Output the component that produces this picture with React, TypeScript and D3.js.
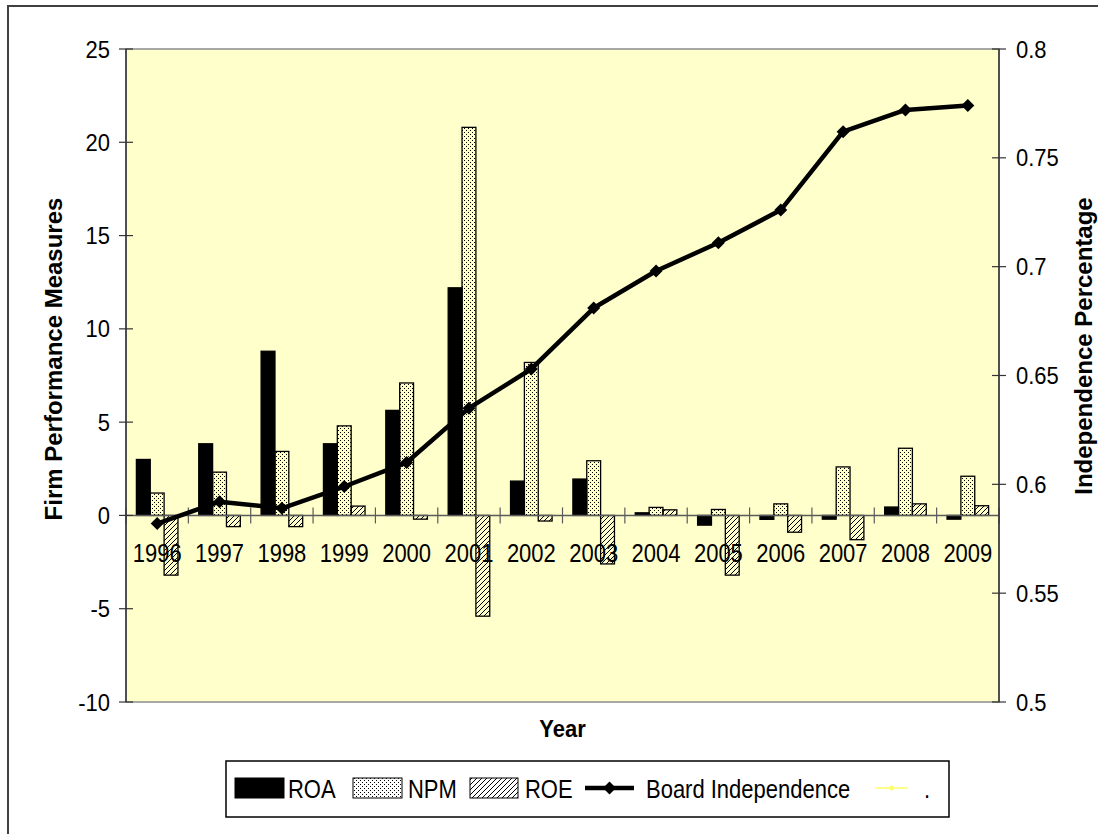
import React from "react";
import * as d3 from "d3";

// Years on the category axis
const years = ["1996", "1997", "1998", "1999", "2000", "2001", "2002", "2003", "2004", "2005", "2006", "2007", "2008", "2009"];

// Firm performance measures (left axis)
const roa = [3.0, 3.84, 8.8, 3.84, 5.63, 12.2, 1.84, 1.95, 0.14, -0.52, -0.21, -0.2, 0.45, -0.2];
const npm = [1.2, 2.32, 3.43, 4.8, 7.1, 20.8, 8.2, 2.93, 0.43, 0.32, 0.62, 2.6, 3.6, 2.1];
const roe = [-3.2, -0.6, -0.6, 0.5, -0.2, -5.4, -0.3, -2.6, 0.3, -3.2, -0.9, -1.3, 0.62, 0.52];

// Board independence percentage (right axis)
const boardIndependence = [0.582, 0.592, 0.589, 0.599, 0.61, 0.635, 0.653, 0.681, 0.698, 0.711, 0.726, 0.762, 0.772, 0.774];

// Axis ticks
const leftTicks = [-10, -5, 0, 5, 10, 15, 20, 25];
const rightTicks = [0.5, 0.55, 0.6, 0.65, 0.7, 0.75, 0.8];
const rightTickLabels = ["0.5", "0.55", "0.6", "0.65", "0.7", "0.75", "0.8"];

const seriesNames = ["ROA", "NPM", "ROE"];

const W = 1098;
const H = 834;
const plot = { left: 126, right: 999, top: 49, bottom: 702 };
const FONT = "Arial, 'Liberation Sans', Helvetica, sans-serif";

// Text drawn slightly taller than wide, anchored at its baseline point
function T(props: {
  x: number;
  y: number;
  sy?: number;
  anchor?: "start" | "middle" | "end";
  size?: number;
  bold?: boolean;
  dy?: string;
  children: React.ReactNode;
}) {
  const { x, y, sy = 1.12, anchor = "start", size = 22, bold = false, dy, children } = props;
  return (
    <g transform={`translate(${x},${y}) scale(1,${sy})`}>
      <text x={0} y={0} dy={dy} textAnchor={anchor} fontSize={size} fontWeight={bold ? "bold" : "normal"} fill="#000">
        {children}
      </text>
    </g>
  );
}

export default function App() {
  const x = d3.scaleBand<string>().domain(years).range([plot.left, plot.right]).paddingInner(0).paddingOuter(0);
  const xs = d3.scaleBand<string>().domain(seriesNames).range([0, x.step()]).paddingInner(0).paddingOuter(0.75);
  const yL = d3.scaleLinear().domain([-10, 25]).range([plot.bottom, plot.top]);
  const yR = d3.scaleLinear().domain([0.5, 0.8]).range([plot.bottom, plot.top]);

  const series = [
    { name: "ROA", values: roa, fill: "#000" },
    { name: "NPM", values: npm, fill: "url(#dots)" },
    { name: "ROE", values: roe, fill: "url(#hatch)" },
  ];

  const line = d3
    .line<number>()
    .x((_, i) => (x(years[i]) as number) + x.bandwidth() / 2)
    .y((d) => yR(d));

  const diamond = (cx: number, cy: number, r: number) =>
    `M${cx},${cy - r}L${cx + r},${cy}L${cx},${cy + r}L${cx - r},${cy}Z`;

  const zeroY = yL(0);
  const boundaries = d3.range(years.length + 1).map((i) => plot.left + i * x.step());

  return (
    <svg
      width={W}
      height={H}
      style={{ position: "absolute", left: 0, top: 0, display: "block", background: "#fff" }}
      fontFamily={FONT}
    >
      <defs>
        <pattern id="dots" width="4" height="4" patternUnits="userSpaceOnUse">
          <rect x="0" y="0" width="1" height="1" fill="#000" />
          <rect x="2" y="2" width="1" height="1" fill="#000" />
        </pattern>
        <pattern id="hatch" width="5" height="5" patternUnits="userSpaceOnUse">
          <path d="M-1,1 L1,-1 M0,5 L5,0 M4,6 L6,4" stroke="#000" strokeWidth="1" />
        </pattern>
      </defs>

      {/* outer chart frame */}
      <rect x={8} y={6} width={W + 20} height={H + 20} fill="none" stroke="#404040" strokeWidth={2} />

      {/* plot area */}
      <rect
        x={plot.left}
        y={plot.top}
        width={plot.right - plot.left}
        height={plot.bottom - plot.top}
        fill="#FFFFCC"
        stroke="#8c8c8c"
        strokeWidth={1.5}
      />

      {/* bars */}
      {series.map((s) =>
        s.values.map((v, i) => {
          const bx = (x(years[i]) as number) + (xs(s.name) as number);
          const y0 = yL(Math.max(0, v));
          const h = Math.abs(yL(v) - yL(0));
          return (
            <rect
              key={s.name + i}
              x={bx}
              y={y0}
              width={xs.bandwidth()}
              height={h}
              fill={s.fill}
              stroke="#000"
              strokeWidth={1.3}
            />
          );
        })
      )}

      {/* category axis at zero */}
      <line x1={plot.left} x2={plot.right} y1={zeroY} y2={zeroY} stroke="#5a5a5a" strokeWidth={1.5} />
      {boundaries.map((bx, i) => (
        <line key={"ct" + i} x1={bx} x2={bx} y1={zeroY - 8} y2={zeroY + 8} stroke="#5a5a5a" strokeWidth={1.2} />
      ))}
      {years.map((yr) => (
        <T key={"cl" + yr} x={(x(yr) as number) + x.bandwidth() / 2} y={zeroY + 47} anchor="middle" sy={1.15}>
          {yr}
        </T>
      ))}

      {/* board independence line */}
      <path d={line(boardIndependence) || ""} fill="none" stroke="#000" strokeWidth={4.5} strokeLinejoin="round" />
      {boardIndependence.map((v, i) => (
        <path key={"m" + i} d={diamond((x(years[i]) as number) + x.bandwidth() / 2, yR(v), 6.5)} fill="#000" />
      ))}

      {/* left value axis */}
      <line x1={plot.left} x2={plot.left} y1={plot.top} y2={plot.bottom} stroke="#333" strokeWidth={1.5} />
      {leftTicks.map((t) => (
        <g key={"lt" + t}>
          <line x1={plot.left - 7} x2={plot.left + 7} y1={yL(t)} y2={yL(t)} stroke="#333" strokeWidth={1.2} />
          <T x={110} y={yL(t) + 8.5} anchor="end" sy={1.1}>
            {t}
          </T>
        </g>
      ))}

      {/* right value axis */}
      <line x1={plot.right} x2={plot.right} y1={plot.top} y2={plot.bottom} stroke="#333" strokeWidth={1.5} />
      {rightTicks.map((t, i) => (
        <g key={"rt" + t}>
          <line x1={plot.right - 7} x2={plot.right + 7} y1={yR(t)} y2={yR(t)} stroke="#333" strokeWidth={1.2} />
          <T x={1016} y={yR(t) + 8.5} anchor="start" sy={1.1}>
            {rightTickLabels[i]}
          </T>
        </g>
      ))}

      {/* axis titles */}
      <text
        transform={`translate(62,359) rotate(-90)`}
        textAnchor="middle"
        fontSize={24}
        fontWeight="bold"
        fill="#000"
      >
        Firm Performance Measures
      </text>
      <text
        transform={`translate(1092,346) rotate(-90)`}
        textAnchor="middle"
        fontSize={24}
        fontWeight="bold"
        fill="#000"
      >
        Independence Percentage
      </text>
      <T x={(plot.left + plot.right) / 2} y={737} anchor="middle" bold sy={1.08}>
        Year
      </T>

      {/* legend */}
      <g>
        <rect x={226} y={761} width={723} height={56} fill="#fff" stroke="#000" strokeWidth={1.5} />
        <rect x={235} y={778} width={49} height={20} fill="#000" stroke="#000" strokeWidth={1} />
        <T x={288} y={798} sy={1.15}>{seriesNames[0]}</T>
        <rect x={353} y={778} width={49} height={20} fill="url(#dots)" stroke="#000" strokeWidth={1} />
        <T x={408} y={798} sy={1.15}>{seriesNames[1]}</T>
        <rect x={470} y={778} width={48} height={20} fill="url(#hatch)" stroke="#000" strokeWidth={1} />
        <T x={525} y={798} sy={1.15}>{seriesNames[2]}</T>
        <line x1={585} x2={634} y1={788} y2={788} stroke="#000" strokeWidth={4.5} />
        <path d={diamond(609.5, 788, 6.5)} fill="#000" />
        <T x={646} y={798} sy={1.15}>Board Independence</T>
        <line x1={875} x2={908} y1={788} y2={788} stroke="#ffff66" strokeWidth={1.5} />
        <path d={diamond(891.5, 788, 3)} fill="#ffff66" />
        <T x={924} y={798} sy={1.15}>.</T>
      </g>
    </svg>
  );
}
